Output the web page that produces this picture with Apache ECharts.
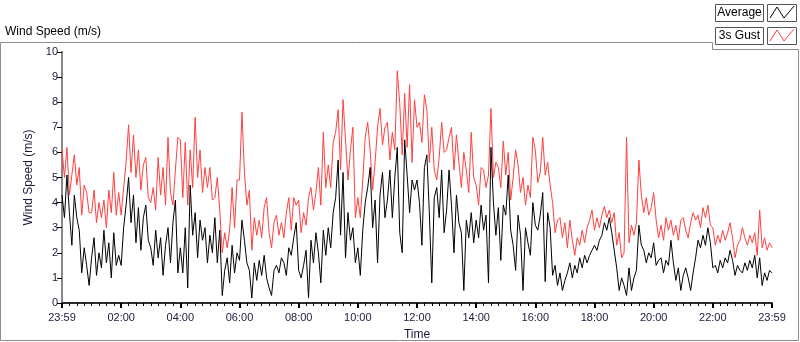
<!DOCTYPE html>
<html>
<head>
    <meta charset="UTF-8">
    <title>Wind Speed</title>
    <script src="https://cdn.jsdelivr.net/npm/echarts@6/dist/echarts.min.js"></script>
    <style>
        html, body { margin: 0; padding: 0; background: #fff; }
        #main { width: 800px; height: 342px; }
    </style>
</head>
<body>
<div id="main"></div>
<script type="text/javascript">
    // samples every 5 minutes, from 23:59 to 23:59 the next day
    var stepMinutes = 5;
    var tickLabels = ['23:59', '02:00', '04:00', '06:00', '08:00', '10:00', '12:00',
        '14:00', '16:00', '18:00', '20:00', '22:00', '23:59'];

    // 3s gust (m/s), one row per hour
    var gustSpeed = [
        6.1, 5.0, 6.2, 4.3, 5.1, 5.9, 4.7, 5.4, 3.5, 4.7, 4.4, 3.6,
        3.6, 4.5, 3.2, 4.0, 3.4, 4.1, 3.0, 4.5, 3.6, 5.2, 3.5, 4.4,
        3.5, 4.6, 5.6, 7.1, 5.2, 6.7, 5.0, 6.1, 4.5, 5.5, 5.8, 4.2,
        4.0, 4.6, 3.7, 5.8, 4.3, 5.4, 3.9, 6.6, 4.4, 3.9, 5.3, 6.6,
        6.5, 4.2, 6.4, 3.9, 6.1, 4.6, 7.4, 5.0, 6.1, 4.4, 5.4, 4.6,
        5.4, 4.1, 4.2, 5.0, 3.7, 2.0, 2.8, 2.2, 2.9, 4.6, 3.0, 4.9,
        4.9, 7.6, 5.2, 3.9, 4.5, 2.1, 3.4, 2.7, 3.3, 2.6, 3.8, 4.2,
        2.8, 2.2, 3.2, 3.5, 2.7, 3.2, 2.6, 3.6, 4.2, 2.9, 4.2, 3.9,
        4.1, 2.8, 3.6, 3.1, 4.2, 4.6, 3.7, 4.4, 5.4, 3.9, 6.8, 4.6,
        5.5, 4.6, 6.4, 6.8, 7.7, 5.3, 8.1, 6.5, 4.9, 6.1, 7.0, 3.4,
        4.2, 3.4, 4.9, 6.6, 7.2, 6.1, 4.5, 5.6, 7.0, 7.75, 6.3, 7.0,
        7.2, 5.7, 6.8, 6.1, 9.25, 7.95, 5.9, 8.35, 6.2, 8.7, 5.6, 8.1,
        7.0, 7.2, 6.4, 8.3, 7.7, 5.6, 7.0, 5.3, 4.9, 5.8, 7.2, 6.0,
        6.1, 6.6, 7.0, 5.3, 6.7, 5.6, 4.6, 6.0, 5.3, 4.4, 6.8, 5.0,
        4.7, 3.9, 5.4, 5.3, 4.6, 5.1, 7.75, 5.0, 5.6, 5.4, 4.6, 6.45,
        5.1, 6.0, 4.1, 5.0, 6.1, 5.5, 4.4, 5.0, 3.9, 4.7, 4.2, 6.6,
        6.1, 4.8, 5.2, 6.6, 5.1, 5.6, 4.7, 4.0, 2.8, 3.3, 3.4, 2.6,
        3.2, 2.2, 3.3, 2.5, 1.9, 2.6, 2.3, 2.9, 2.4, 3.0, 3.3, 3.7,
        2.9, 3.4, 3.0, 3.5, 3.85, 3.4, 3.7, 3.2, 3.6, 2.3, 2.8, 1.8,
        2.0, 6.6, 2.4, 3.1, 2.7, 3.2, 5.7, 4.3, 3.6, 4.2, 3.5, 3.8,
        4.4, 3.3, 2.6, 3.1, 2.5, 3.4, 2.9, 3.3, 2.7, 3.1, 2.5, 3.3,
        3.4, 2.9, 2.6, 3.2, 3.6, 3.3, 3.5, 3.0, 3.8, 3.4, 3.9, 3.1,
        3.0, 2.3, 2.7, 2.4, 2.9, 2.5, 2.8, 3.2, 2.6, 1.8, 2.3, 2.5,
        3.0, 2.6, 2.3, 2.7, 2.4, 2.8, 1.9, 3.7, 2.2, 2.6, 2.1, 2.4,
        2.2
    ];

    // average (m/s), one row per hour
    var averageSpeed = [
        4.3, 3.4, 5.1, 3.6, 2.3, 4.3, 3.4, 2.9, 1.2, 2.2, 1.5, 0.7,
        1.8, 2.6, 1.1, 2.0, 1.4, 2.9, 1.6, 2.4, 1.0, 2.8, 1.5, 1.9,
        1.5, 3.0, 3.9, 5.0, 3.2, 4.3, 2.4, 3.8, 2.1, 3.4, 3.9, 2.5,
        2.2, 1.5, 2.9, 1.8, 2.6, 1.1, 2.3, 3.0, 1.6, 3.2, 4.1, 1.2,
        2.2, 1.2, 3.0, 0.6, 4.7, 2.7, 3.6, 1.8, 3.3, 2.5, 3.0, 1.6,
        2.7, 2.0, 3.4, 1.6, 2.9, 0.3, 1.3, 1.8, 0.8, 2.3, 1.2, 2.0,
        1.7, 3.3, 2.5, 1.6, 1.3, 0.2, 1.6, 0.9, 1.7, 1.1, 1.9, 1.0,
        0.6, 0.3, 1.3, 1.5, 1.2, 1.8, 1.6, 1.1, 2.2, 1.9, 2.6, 3.2,
        1.3, 1.0, 1.5, 2.1, 0.2, 2.5, 1.6, 2.8, 2.0, 0.8, 2.9, 1.9,
        3.0, 2.2, 3.6, 4.2, 5.7, 2.7, 5.2, 1.8, 3.6, 2.5, 3.0, 1.6,
        2.2, 1.1, 2.9, 4.0, 4.6, 5.4, 3.0, 4.1, 1.6, 4.3, 5.2, 3.4,
        4.1, 5.3, 3.4, 5.0, 6.2, 2.8, 2.0, 6.5, 5.1, 3.6, 4.9, 4.5,
        4.9, 4.0, 2.3, 5.4, 5.9, 3.6, 0.8, 4.2, 4.6, 3.4, 5.3, 2.8,
        3.7, 5.3, 3.9, 2.0, 4.3, 3.2, 2.8, 0.5, 3.3, 2.6, 3.6, 2.4,
        3.3, 2.6, 3.9, 2.9, 3.5, 0.8, 6.2, 4.0, 2.7, 3.8, 1.7, 3.9,
        3.5, 5.1, 2.9, 2.3, 1.3, 3.5, 2.7, 0.5, 3.0, 2.4, 1.9, 4.0,
        3.1, 2.9, 3.5, 4.4, 0.85, 3.6, 3.0, 1.1, 1.5, 0.7, 1.2, 0.5,
        0.9, 1.2, 1.6, 1.0, 1.5, 1.2, 1.8, 1.4, 1.9, 1.6, 1.9, 2.1,
        2.3, 2.1, 2.5, 2.7, 3.2, 2.9, 3.4, 2.8, 2.1, 1.4, 0.5, 1.0,
        0.7, 0.3, 1.4, 0.5, 1.0, 1.3, 3.1, 2.3, 2.1, 1.6, 2.0, 1.8,
        2.4, 1.5, 1.7, 1.8, 1.2, 1.7, 1.5, 2.5, 1.6, 0.9, 1.4, 0.5,
        1.1, 1.4, 1.0, 0.5, 1.2, 1.8, 2.5, 2.2, 2.7, 2.3, 3.0, 2.4,
        1.4, 1.5, 1.2, 1.7, 1.4, 1.8, 1.6, 2.1, 1.7, 1.1, 1.5, 1.3,
        1.2, 1.6, 1.3, 1.7, 1.4, 1.9, 1.0, 1.8, 0.7, 1.2, 0.9, 1.3,
        1.2
    ];

    function toPairs(values) {
        var out = [];
        for (var i = 0; i < values.length; i++) {
            out.push([i * stepMinutes, values[i]]);
        }
        return out;
    }

    var textColor = '#1a1a3a';
    var frameColor = '#8c8c8c';
    var font = 'Liberation Sans';

    var myChart = echarts.init(document.getElementById('main'));

    var option = {
        animation: false,
        backgroundColor: '#fff',
        grid: { left: 62, right: 28, top: 52, bottom: 39, containLabel: false, outerBoundsMode: 'none' },
        xAxis: [{
            type: 'value',
            min: 0,
            max: 1440,
            interval: 120,
            name: 'Time',
            nameLocation: 'middle',
            nameGap: 26,
            nameTextStyle: { color: textColor, fontFamily: font, fontSize: 12 },
            axisLine: { lineStyle: { color: '#a0a0a0', width: 1.5 } },
            axisTick: { length: 5, lineStyle: { color: '#000', width: 2 } },
            minorTick: { show: true, splitNumber: 8, length: 3, lineStyle: { color: '#000', width: 1 } },
            splitLine: { show: false },
            axisLabel: {
                color: textColor, fontFamily: font, fontSize: 11, margin: 9,
                formatter: function (v) { return tickLabels[Math.round(v / 120)]; }
            }
        }, {
            type: 'value',
            position: 'top',
            min: 0,
            max: 1440,
            axisLine: { show: true, lineStyle: { color: '#000', width: 1.5 } },
            axisTick: { show: false },
            axisLabel: { show: false },
            splitLine: { show: false }
        }],
        yAxis: [{
            type: 'value',
            min: 0,
            max: 10,
            interval: 1,
            name: 'Wind Speed (m/s)',
            nameLocation: 'middle',
            nameRotate: 90,
            nameGap: 26,
            nameTextStyle: { color: textColor, fontFamily: font, fontSize: 12 },
            axisLine: { show: true, lineStyle: { color: '#000', width: 1.5 } },
            axisTick: { show: true, length: 5, lineStyle: { color: '#000' } },
            splitLine: { show: false },
            axisLabel: { color: textColor, fontFamily: font, fontSize: 11, margin: 4 }
        }, {
            type: 'value',
            position: 'right',
            min: 0,
            max: 10,
            axisLine: { show: true, lineStyle: { color: '#a0a0a0', width: 1.5 } },
            axisTick: { show: false },
            axisLabel: { show: false },
            splitLine: { show: false }
        }],
        series: [{
            name: '3s Gust',
            type: 'line',
            showSymbol: false,
            symbol: 'none',
            data: toPairs(gustSpeed),
            lineStyle: { color: '#ff4040', width: 1 },
            itemStyle: { color: '#ff4040' }
        }, {
            name: 'Average',
            type: 'line',
            showSymbol: false,
            symbol: 'none',
            data: toPairs(averageSpeed),
            lineStyle: { color: '#000', width: 1 },
            itemStyle: { color: '#000' }
        }],
        graphic: [
            // outer frame, stepped round the legend
            { type: 'polyline', silent: true,
              shape: { points: [[0.5, 340.5], [0.5, 42.5], [712.5, 42.5], [712.5, 49.5], [798.5, 49.5], [798.5, 340.5], [0.5, 340.5]] },
              style: { stroke: frameColor, lineWidth: 1, fill: null } },
            { type: 'text', left: 5, top: 26,
              style: { text: 'Wind Speed (m/s)', fill: '#000', font: '12px ' + font } },
            // legend
            { type: 'rect', shape: { x: 715.5, y: 4.5, width: 48, height: 17 }, style: { fill: '#fff', stroke: '#555', lineWidth: 1 } },
            { type: 'text', x: 739.5, y: 13, style: { text: 'Average', fill: '#000', font: '12px ' + font, align: 'center', verticalAlign: 'middle' } },
            { type: 'rect', shape: { x: 767.5, y: 4.5, width: 29, height: 17 }, style: { fill: '#fff', stroke: '#555', lineWidth: 1 } },
            { type: 'polyline', shape: { points: [[770, 18], [777, 7], [784, 18], [794, 6]] }, style: { stroke: '#000', lineWidth: 1, fill: null } },
            { type: 'rect', shape: { x: 715.5, y: 27.5, width: 48, height: 17 }, style: { fill: '#fff', stroke: '#555', lineWidth: 1 } },
            { type: 'text', x: 739.5, y: 36, style: { text: '3s Gust', fill: '#000', font: '12px ' + font, align: 'center', verticalAlign: 'middle' } },
            { type: 'rect', shape: { x: 767.5, y: 27.5, width: 29, height: 17 }, style: { fill: '#fff', stroke: '#555', lineWidth: 1 } },
            { type: 'polyline', shape: { points: [[770, 41], [777, 30], [784, 41], [794, 29]] }, style: { stroke: '#ff4040', lineWidth: 1, fill: null } }
        ]
    };

    myChart.setOption(option);
</script>
</body>
</html>
